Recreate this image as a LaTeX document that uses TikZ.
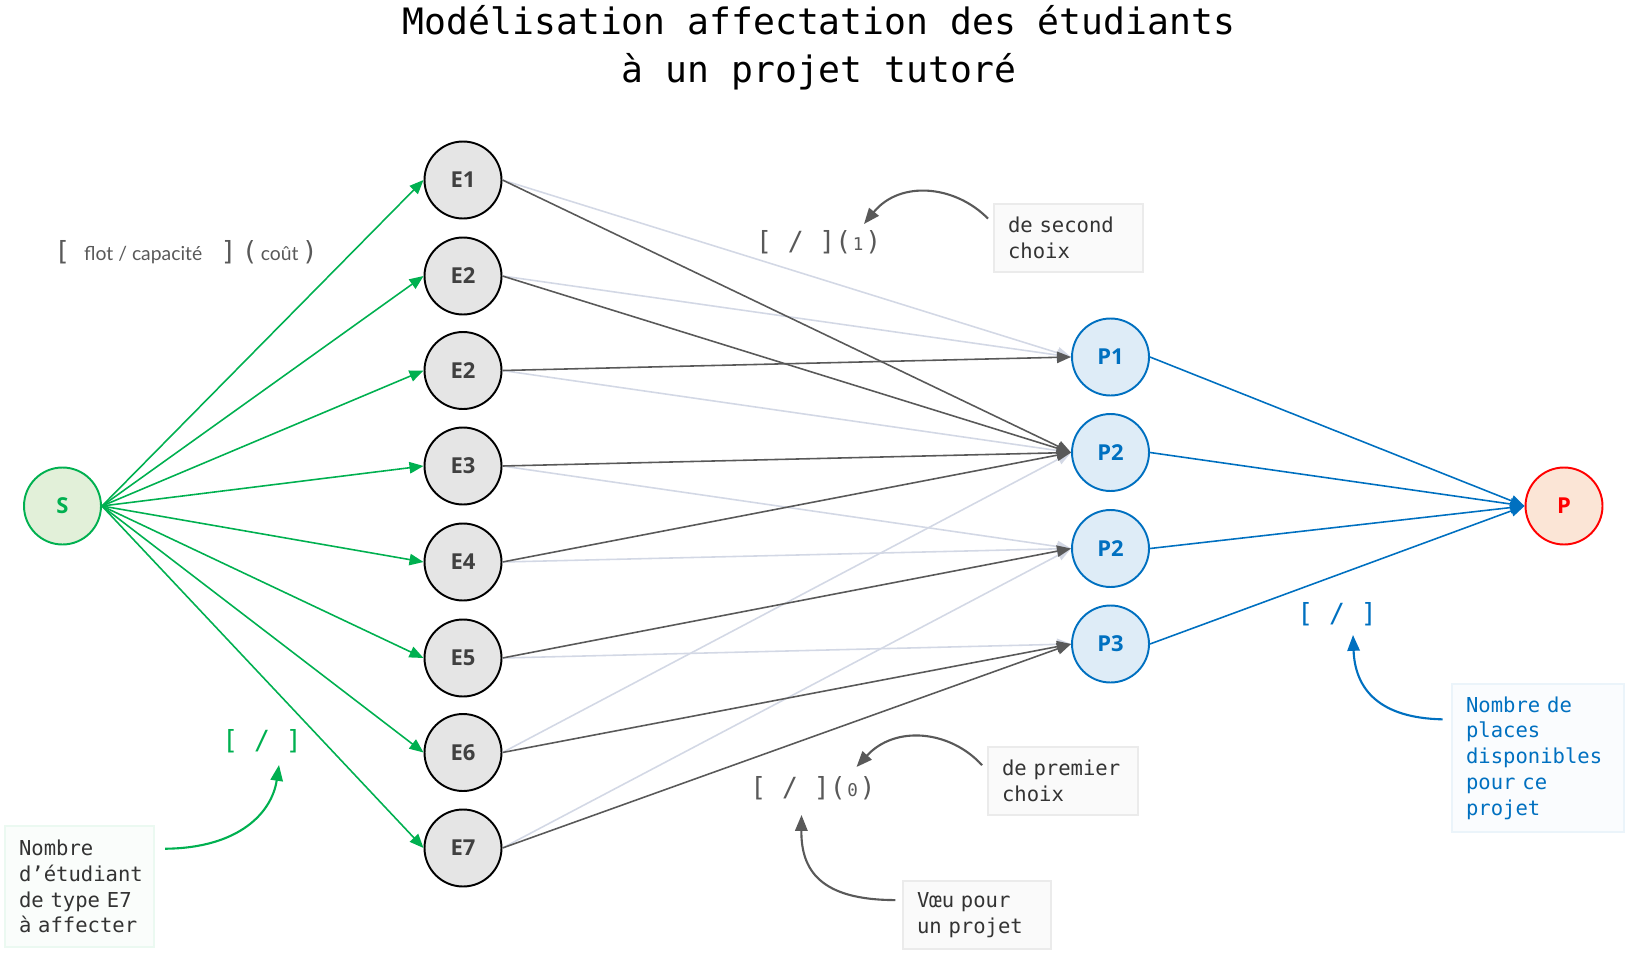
\documentclass[tikz,border=0pt]{standalone}
\usepackage{fontspec}
\setsansfont{Open Sans}
\setmonofont{DejaVu Sans Mono}
\newfontfamily\legendefont{Lato}
\usetikzlibrary{arrows.meta}

\definecolor{vert}{HTML}{00B050}
\definecolor{gris}{HTML}{595959}
\definecolor{pale}{HTML}{D3D8E5}
\definecolor{bleu}{HTML}{0070C0}
\definecolor{rouge}{HTML}{FF0000}
\definecolor{fondvert}{HTML}{E2F0D9}
\definecolor{fondrouge}{HTML}{FBE5D6}

\begin{document}
\begin{tikzpicture}[
    x=0.02cm, y=-0.02cm,
    rond/.style={circle, line width=1.1pt, minimum size=1.54cm, inner sep=0pt,
      font=\sffamily\bfseries\fontsize{12.5}{14}\selectfont},
    etud/.style={rond, draw=black, fill=black!10, text=black!75},
    proj/.style={rond, draw=bleu, fill=bleu!13, text=bleu},
    note/.style={draw=#1!8, fill=#1!2, line width=0.8pt, align=left,
      inner xsep=0.28cm, minimum height=1.36cm,
      font=\ttfamily\fontsize{11.7}{14.7}\selectfont},
    lab/.style={font=\ttfamily\fontsize{15}{18}\selectfont},
    fort/.style={->, draw=gris, line width=0.9pt},
    faible/.style={->, draw=pale, line width=0.9pt},
    fleche/.style={-{Triangle[length=9pt,width=7pt]}, line width=1.2pt},
    >={Triangle[length=8pt,width=6.5pt]}
  ]
    \useasboundingbox (0,0) rectangle (1632,953);

    \node[font=\ttfamily\fontsize{20.7}{27.2}\selectfont, align=center] (titre)
      at (819,48) {Modélisation affectation des étudiants\\à un projet tutoré};

    % sources et puits
    \node[rond, draw=vert, fill=fondvert, text=vert]    (s) at (62.5,506)   {S};
    \node[rond, draw=rouge, fill=fondrouge, text=rouge] (p) at (1564,506) {P};

    % etudiants
    \node[etud] (e1)  at (463,180)   {E1};
    \node[etud] (e2)  at (463,276)   {E2};
    \node[etud] (e2b) at (463,370.5) {E2};
    \node[etud] (e3)  at (463,466)   {E3};
    \node[etud] (e4)  at (463,562)   {E4};
    \node[etud] (e5)  at (463,658)   {E5};
    \node[etud] (e6)  at (463,752.5) {E6};
    \node[etud] (e7)  at (463,848)   {E7};

    % projets
    \node[proj] (p1)  at (1110.5,357)   {P1};
    \node[proj] (p2)  at (1110.5,452.5) {P2};
    \node[proj] (p2b) at (1110.5,548.5) {P2};
    \node[proj] (p3)  at (1110.5,644)   {P3};

    \draw[->, vert, line width=0.9pt] (s.east) -- (e1.west);
    \draw[->, vert, line width=0.9pt] (s.east) -- (e2.west);
    \draw[->, vert, line width=0.9pt] (s.east) -- (e2b.west);
    \draw[->, vert, line width=0.9pt] (s.east) -- (e3.west);
    \draw[->, vert, line width=0.9pt] (s.east) -- (e4.west);
    \draw[->, vert, line width=0.9pt] (s.east) -- (e5.west);
    \draw[->, vert, line width=0.9pt] (s.east) -- (e6.west);
    \draw[->, vert, line width=0.9pt] (s.east) -- (e7.west);

    % voeux de second choix
    \draw[faible] (e1.east)  -- (p1.west);
    \draw[faible] (e2.east)  -- (p1.west);
    \draw[faible] (e2b.east) -- (p2.west);
    \draw[faible] (e3.east)  -- (p2b.west);
    \draw[faible] (e4.east)  -- (p2b.west);
    \draw[faible] (e5.east)  -- (p3.west);
    \draw[faible] (e6.east)  -- (p2.west);
    \draw[faible] (e7.east)  -- (p2b.west);

    % voeux de premier choix
    \draw[fort] (e1.east)  -- (p2.west);
    \draw[fort] (e2.east)  -- (p2.west);
    \draw[fort] (e2b.east) -- (p1.west);
    \draw[fort] (e3.east)  -- (p2.west);
    \draw[fort] (e4.east)  -- (p2.west);
    \draw[fort] (e5.east)  -- (p2b.west);
    \draw[fort] (e6.east)  -- (p3.west);
    \draw[fort] (e7.east)  -- (p3.west);

    \draw[->, bleu, line width=0.9pt] (p1.east)  -- (p.west);
    \draw[->, bleu, line width=0.9pt] (p2.east)  -- (p.west);
    \draw[->, bleu, line width=0.9pt] (p2b.east) -- (p.west);
    \draw[->, bleu, line width=0.9pt] (p3.east)  -- (p.west);

    % etiquettes
    \node[text=gris, font=\legendefont\fontsize{11}{13}\selectfont] (legende) at (186,252)
      {{\ttfamily\fontsize{15}{16}\selectfont[}\hspace{8pt}flot / capacité\hspace{10.5pt}{\ttfamily\fontsize{15}{16}\selectfont]}\hspace{3pt}{\ttfamily\fontsize{15}{16}\selectfont(}\,coût\,{\ttfamily\fontsize{15}{16}\selectfont)}};
    \node[lab, text=gris] (lab1) at (818.6,242.5) {[ / ](\kern1pt{\fontsize{10}{12}\selectfont1}\kern1pt)};
    \node[lab, text=gris] (lab0) at (813,788)     {[ / ](\kern1pt{\fontsize{10}{12}\selectfont0}\kern1pt)};
    \node[lab, text=vert] (labs) at (262,741)     {[ / ]};
    \node[lab, text=bleu] (labp) at (1337,614)    {[ / ]};

    % notes
    \node[note=black, text=black!80, text width=2.42cm] (second)  at (1068.5,238) {de second\\choix};
    \node[note=black, text=black!80, text width=2.44cm] (premier) at (1063,781)   {de premier\\choix};
    \node[note=black, text=black!80, text width=2.4cm]  (voeu)    at (977,915)    {Vœu pour\\un projet};
    \node[note=vert, text=black!80, text width=2.42cm, minimum height=2.42cm] (nbetud)
      at (79.5,886.5) {Nombre\\d’étudiant\\de type E7\\à affecter};
    \node[note=bleu, text=bleu, text width=2.88cm, minimum height=2.96cm] (nbplaces)
      at (1538,758) {Nombre de\\places\\disponibles\\pour ce\\projet};

    \coordinate (c1) at (864,224);
    \coordinate (c0) at (856.5,767);
    \coordinate (cv) at (801.5,815);
    \coordinate (cs) at (279,765);
    \coordinate (cp) at (1353,635);

    \draw[fleche, gris] ([xshift=-3pt,yshift=11pt]second.west) .. controls (955,185) and (900,180) .. (c1);
    \draw[fleche, gris] ([xshift=-3pt,yshift=9pt]premier.west) .. controls (950,730) and (895,725) .. (c0);
    \draw[fleche, gris] ([xshift=-4pt,yshift=8.5pt]voeu.west) .. controls (820,900) and (801,870) .. (cv);
    \draw[fleche, vert] ([xshift=6pt,yshift=21.5pt]nbetud.east) .. controls (240,848) and (272,812) .. (cs);
    \draw[fleche, bleu] ([xshift=-5pt,yshift=22pt]nbplaces.west) .. controls (1380,718) and (1355,690) .. (cp);
  \end{tikzpicture}
\end{document}
